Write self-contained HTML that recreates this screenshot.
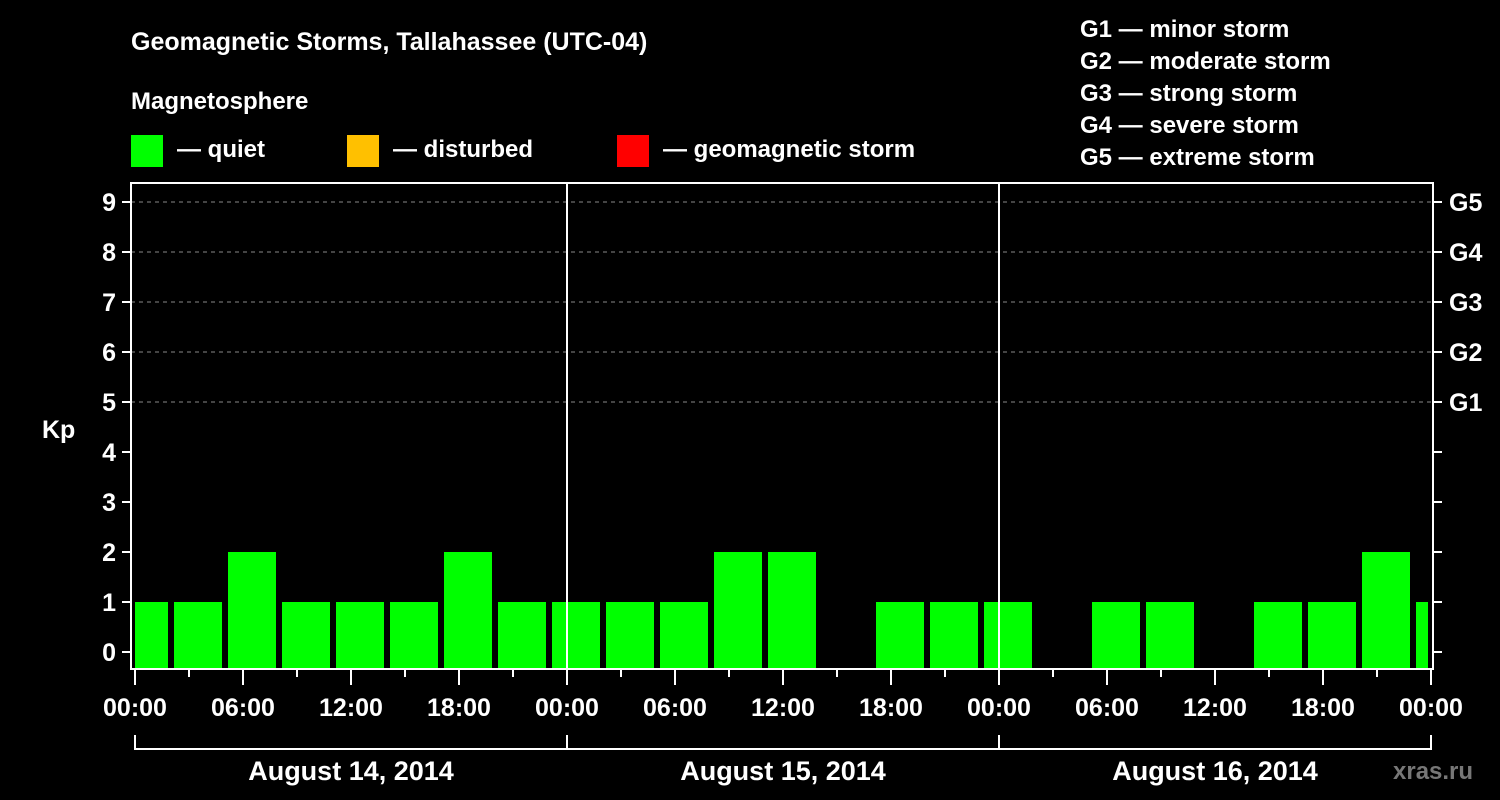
<!DOCTYPE html>
<html><head><meta charset="utf-8"><style>
html,body{margin:0;padding:0;background:#000;}
svg{display:block;font-family:"Liberation Sans",Arial,sans-serif;font-weight:bold;}
</style></head><body>
<svg id="chart" width="1500" height="800" viewBox="0 0 1500 800" xmlns="http://www.w3.org/2000/svg">
<rect width="1500" height="800" fill="#000"/>
<text x="131" y="50" fill="#fff" font-size="25">Geomagnetic Storms, Tallahassee (UTC-04)</text>
<text x="131" y="109" fill="#fff" font-size="24">Magnetosphere</text>
<g><rect x="131" y="135" width="32" height="32" fill="#00ff00"/><text x="177" y="157" fill="#fff" font-size="24">— quiet</text></g>
<g><rect x="347" y="135" width="32" height="32" fill="#ffc000"/><text x="393" y="157" fill="#fff" font-size="24">— disturbed</text></g>
<g><rect x="617" y="135" width="32" height="32" fill="#ff0000"/><text x="663" y="157" fill="#fff" font-size="24">— geomagnetic storm</text></g>
<g fill="#fff" font-size="24">
<text x="1080" y="37">G1 — minor storm</text>
<text x="1080" y="69">G2 — moderate storm</text>
<text x="1080" y="101">G3 — strong storm</text>
<text x="1080" y="133">G4 — severe storm</text>
<text x="1080" y="165">G5 — extreme storm</text>
</g>
<text x="42" y="438" fill="#fff" font-size="25">Kp</text>
<text x="1393" y="779" fill="#777" font-size="24">xras.ru</text>
<g id="grid"></g><g id="bars"></g><g id="axes"></g>
</svg>
<script>
const kpValues = [1,1,2,1,1,1,2,1,1,1,1,2,2,0,1,1,1,0,1,1,0,1,1,2,1];
const binStartHour = -1; // first 3h bin starts Aug 13 23:00 local
const dayLabels = ["August 14, 2014","August 15, 2014","August 16, 2014"];
const hourLabels = ["00:00","06:00","12:00","18:00"];
const gLabels = ["G1","G2","G3","G4","G5"];

const NS="http://www.w3.org/2000/svg";
const X0=135, X1=1431, PL=131, PR=1433, PT=183, PB=669;
const xs=h=>X0+(h/72)*(X1-X0);
const ys=v=>652-v*50;
function mk(tag,attrs,parent,txt){const e=document.createElementNS(NS,tag);for(const k in attrs)e.setAttribute(k,attrs[k]);if(txt!==undefined)e.textContent=txt;parent.appendChild(e);return e;}
const grid=document.getElementById('grid'),bars=document.getElementById('bars'),axes=document.getElementById('axes');
for(let v=5;v<=9;v++){const l=mk('line',{x1:PL,x2:PR,y1:ys(v),y2:ys(v),stroke:'#888','stroke-width':1,'stroke-dasharray':'4,4'},grid);

}
kpValues.forEach((v,i)=>{if(v<=0)return;let a=xs(binStartHour+3*i)+3,b=xs(binStartHour+3*i+3)-3;a=Math.max(a,X0);b=Math.min(b,1428);
const r=mk('rect',{x:a,y:ys(v),width:b-a,height:668-ys(v),fill:v>=5?'#ff0000':(v>=4?'#ffc000':'#00ff00')},bars);

});
for(let d=1;d<3;d++){const l=mk('line',{x1:xs(24*d),x2:xs(24*d),y1:PT,y2:PB,stroke:'#fff','stroke-width':2},axes);

}
const fr=mk('rect',{x:PL,y:PT,width:PR-PL,height:PB-PT,fill:'none',stroke:'#fff','stroke-width':2},axes);


for(let v=0;v<=9;v++){mk('line',{x1:122,x2:PL,y1:ys(v),y2:ys(v),stroke:'#fff','stroke-width':2},axes);
mk('line',{x1:PR,x2:1442,y1:ys(v),y2:ys(v),stroke:'#fff','stroke-width':2},axes);
const t=mk('text',{x:116,y:ys(v)+9,fill:'#fff','font-size':25,'text-anchor':'end'},axes,String(v));

}
gLabels.forEach((g,i)=>{const t=mk('text',{x:1449,y:ys(5+i)+9,fill:'#fff','font-size':25},axes,g);

});
for(let h=0;h<=72;h+=3){const major=h%6===0;mk('line',{x1:xs(h),x2:xs(h),y1:PB,y2:major?685:677,stroke:'#fff','stroke-width':2},axes);
if(major){const t=mk('text',{x:xs(h),y:716,fill:'#fff','font-size':25,'text-anchor':'middle'},axes,hourLabels[(h/6)%4]);

}}
mk('path',{d:`M${xs(0)} 735V749H${xs(72)}V735`,fill:'none',stroke:'#fff','stroke-width':2},axes);
for(let d=1;d<3;d++)mk('line',{x1:xs(24*d),x2:xs(24*d),y1:735,y2:749,stroke:'#fff','stroke-width':2},axes);
dayLabels.forEach((s,d)=>{const t=mk('text',{x:xs(24*d+12),y:780,fill:'#fff','font-size':27,'text-anchor':'middle'},axes,s);

});
</script>
</body></html>
